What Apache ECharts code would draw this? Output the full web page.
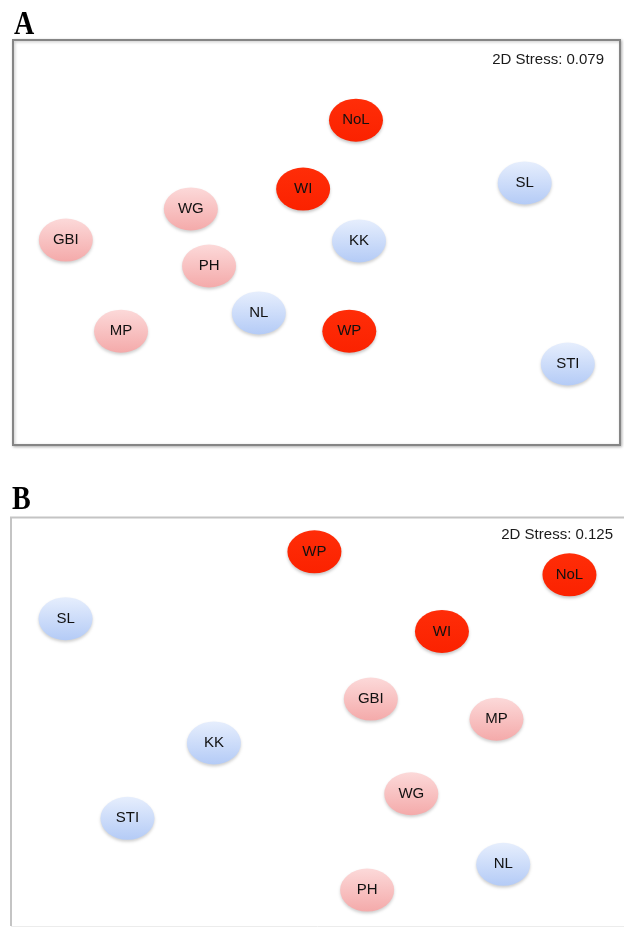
<!DOCTYPE html>
<html>
<head>
<meta charset="utf-8">
<script src="https://cdn.jsdelivr.net/npm/echarts@6/dist/echarts.min.js"></script>
<style>html,body{margin:0;padding:0;background:#fff;}#c{width:624px;height:927px;}</style>
</head>
<body>
<div id="c"></div>
<script>
// Panel A (NMDS, 2D stress 0.079)
const sitesA = ['NoL','WI','SL','WG','GBI','KK','PH','NL','WP','MP','STI'];
const xA = [56.5, 47.8, 84.3, 29.3, 8.7, 57.0, 32.3, 40.5, 55.4, 17.8, 91.4];
const yA = [80.2, 63.2, 64.7, 58.3, 50.6, 50.4, 44.2, 32.6, 28.1, 28.1, 20.0];
// Panel B (NMDS, 2D stress 0.125)
const sitesB = ['WP','NoL','SL','WI','GBI','MP','KK','WG','STI','NL','PH'];
const xB = [49.5, 91.1, 8.9, 70.3, 58.7, 79.2, 33.1, 65.3, 19.0, 80.3, 58.1];
const yB = [91.5, 85.9, 75.2, 72.1, 55.6, 50.7, 44.9, 32.5, 26.5, 15.3, 9.0];
const redGroup = ['NoL','WI','WP'];
const pinkGroup = ['WG','GBI','PH','MP'];
const blueGroup = ['SL','KK','NL','STI'];
const stressA = '2D Stress: 0.079';
const stressB = '2D Stress: 0.125';

const ellipse = 'path://M1,0A1,1,0,1,1,-1,0A1,1,0,1,1,1,0Z';
function grad(c1, c2) {
  return {type:'linear', x:0, y:0, x2:0, y2:1, colorStops:[{offset:0,color:c1},{offset:1,color:c2}]};
}
const styles = {
  red: {opacity: 1, color: grad('#ff2d08', '#fb2200'), shadowBlur: 3, shadowOffsetY: 2, shadowColor: 'rgba(0,0,0,0.22)'},
  pink: {opacity: 1, color: grad('#fcd9d9', '#f4aaaa'), shadowBlur: 3, shadowOffsetY: 2, shadowColor: 'rgba(0,0,0,0.18)'},
  blue: {opacity: 1, color: grad('#e6eefd', '#b4cbf6'), shadowBlur: 3, shadowOffsetY: 2, shadowColor: 'rgba(0,0,0,0.18)'}
};
function group(name) {
  if (redGroup.includes(name)) return 'red';
  if (pinkGroup.includes(name)) return 'pink';
  return 'blue';
}
function buildData(names, xs, ys) {
  return names.map((n, i) => ({name: n, value: [xs[i], ys[i]], itemStyle: styles[group(n)]}));
}
const labelCfg = {show: true, position: 'inside', formatter: '{b}', color: '#111', fontSize: 15, fontFamily: 'Liberation Sans, Arial, sans-serif'};

const chart = echarts.init(document.getElementById('c'), null, {renderer: 'canvas'});
chart.setOption({
  backgroundColor: '#fff',
  animation: false,
  grid: [
    {left: 13, top: 40, width: 607, height: 405, show: true, borderColor: '#858585', borderWidth: 2, backgroundColor: '#fff',
     shadowColor: 'rgba(0,0,0,0.25)', shadowBlur: 3, shadowOffsetX: 1, shadowOffsetY: 1},
    {left: 11, top: 517, width: 620, height: 412, show: false}
  ],
  xAxis: [
    {gridIndex: 0, type: 'value', min: 0, max: 100, show: false},
    {gridIndex: 1, type: 'value', min: 0, max: 100, show: false}
  ],
  yAxis: [
    {gridIndex: 0, type: 'value', min: 0, max: 100, show: false},
    {gridIndex: 1, type: 'value', min: 0, max: 100, show: false}
  ],
  graphic: [
    {type: 'text', x: 14, y: 9, scaleX: 0.85, style: {text: 'A', font: 'bold 33px "Liberation Serif", "Times New Roman", serif', fill: '#000'}},
    {type: 'text', x: 12, y: 484, scaleX: 0.85, style: {text: 'B', font: 'bold 33px "Liberation Serif", "Times New Roman", serif', fill: '#000'}},
    {type: 'text', right: 20, top: 52, style: {text: stressA, font: '15px "Liberation Sans", Arial, sans-serif', fill: '#1a1a1a'}},
    {type: 'text', right: 11, top: 527, style: {text: stressB, font: '15px "Liberation Sans", Arial, sans-serif', fill: '#1a1a1a'}},
    {type: 'polyline', z: 0, shape: {points: [[11, 926], [11, 517.5], [624, 517.5]]}, style: {stroke: '#c4c4c4', lineWidth: 2, fill: null}},
    {type: 'line', z: 0, shape: {x1: 11, y1: 926.5, x2: 624, y2: 926.5}, style: {stroke: '#ececec', lineWidth: 1}}
  ],
  series: [
    {type: 'scatter', xAxisIndex: 0, yAxisIndex: 0, symbol: ellipse, symbolSize: [54, 43], label: labelCfg, data: buildData(sitesA, xA, yA)},
    {type: 'scatter', xAxisIndex: 1, yAxisIndex: 1, symbol: ellipse, symbolSize: [54, 43], label: labelCfg, data: buildData(sitesB, xB, yB)}
  ]
});
</script>
</body>
</html>
